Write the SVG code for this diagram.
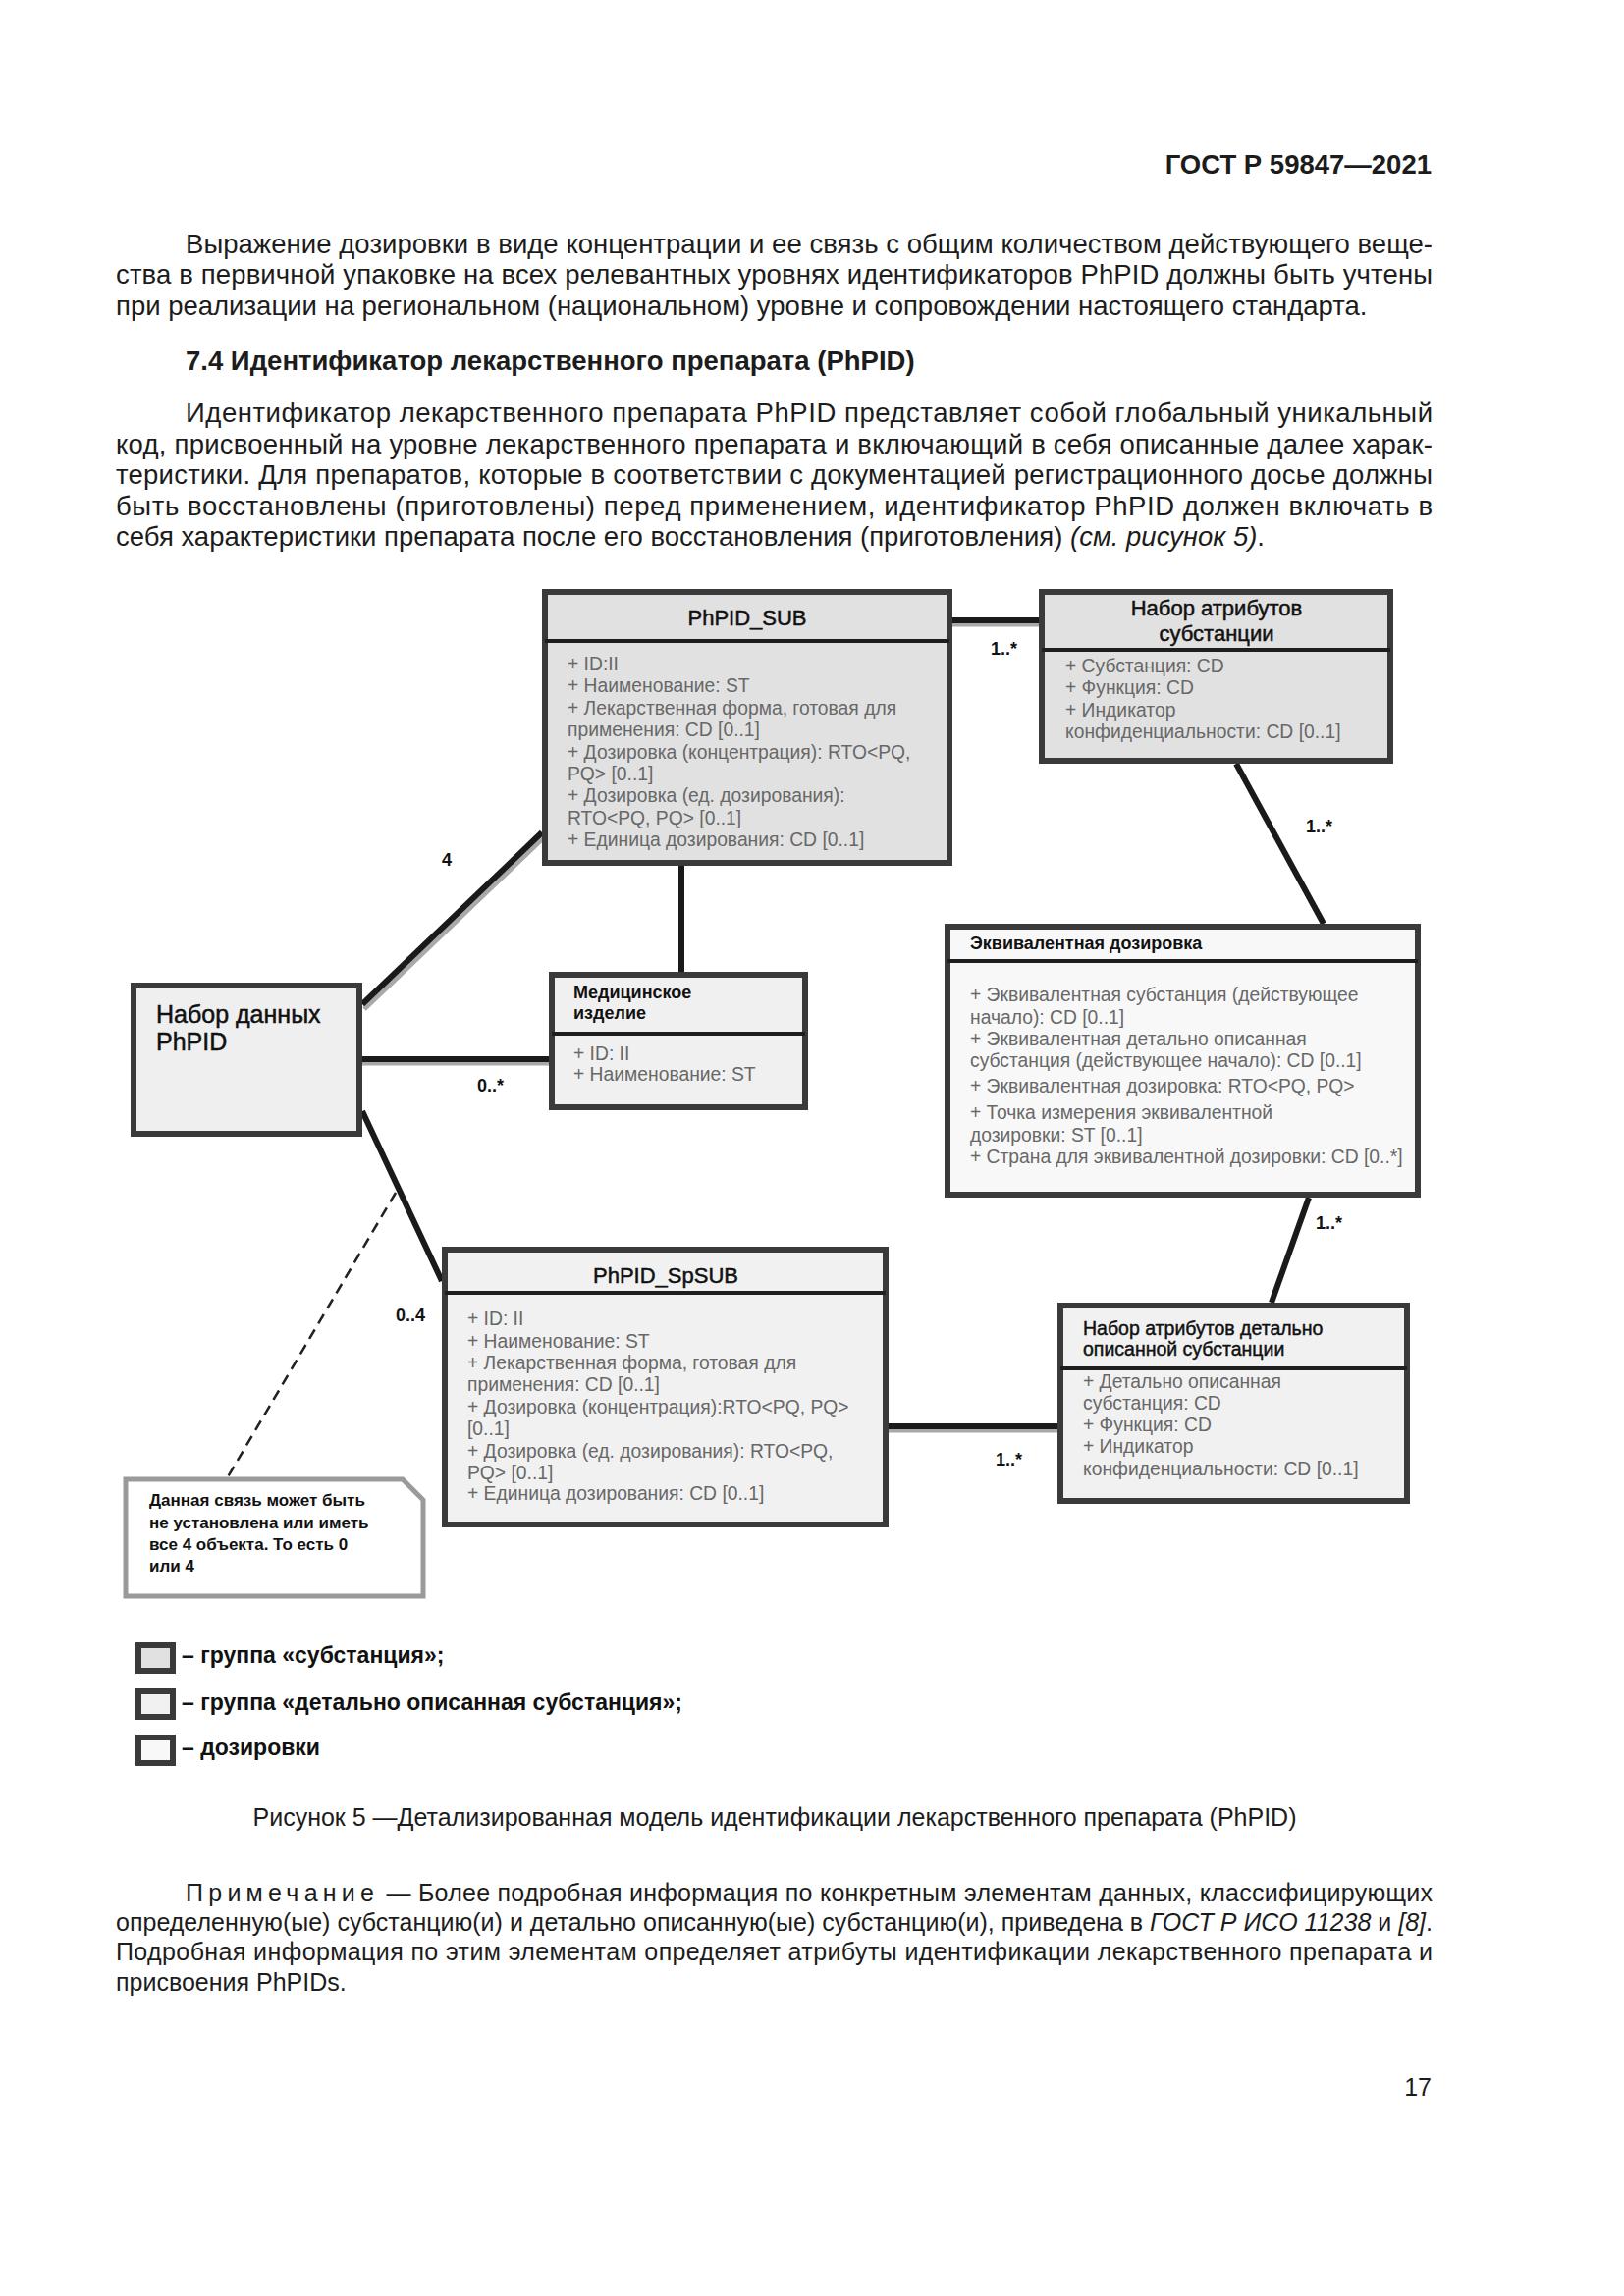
<svg xmlns="http://www.w3.org/2000/svg" width="1654" height="2339" viewBox="0 0 1654 2339">
<style>
text{font-family:"Liberation Sans",Arial,sans-serif}
.body{font-size:27.5px;fill:#1c1c1c}
.bold{font-weight:bold}
.note{font-size:25px;fill:#1c1c1c}
.it{font-style:italic}
.box{stroke:#3a3a3a;stroke-width:6}
.div{stroke:#1e1e1e;stroke-width:4}
.ttl{font-size:22px;fill:#111;stroke:#111;stroke-width:0.5}
.ttls{font-size:19.5px;fill:#111;stroke:#111;stroke-width:0.45}
.ttlb{font-size:18px;font-weight:bold;fill:#111}
.attr{font-size:19.3px;fill:#686868}
.lbl{font-size:18px;font-weight:bold;fill:#111}
.conn{stroke:#1a1a1a;stroke-width:6;fill:none}
.shd{stroke:#a9a9a9;stroke-width:5;fill:none}
.nt{font-size:17px;font-weight:bold;fill:#111}
.lg{font-size:23px;font-weight:bold;fill:#111}
</style>
<rect width="1654" height="2339" fill="#ffffff"/>

<g id="page-text">
<text class="body bold" x="1458" y="177" text-anchor="end">ГОСТ Р 59847—2021</text>
<text class="body" x="189" y="258" textLength="1270" lengthAdjust="spacing">Выражение дозировки в виде концентрации и ее связь с общим количеством действующего веще-</text>
<text class="body" x="118" y="289" textLength="1341" lengthAdjust="spacing">ства в первичной упаковке на всех релевантных уровнях идентификаторов PhPID должны быть учтены</text>
<text class="body" x="118" y="321">при реализации на региональном (национальном) уровне и сопровождении настоящего стандарта.</text>
<text class="body bold" x="189" y="377">7.4 Идентификатор лекарственного препарата (PhPID)</text>
<text class="body" x="189" y="430" textLength="1270" lengthAdjust="spacing">Идентификатор лекарственного препарата PhPID представляет собой глобальный уникальный</text>
<text class="body" x="118" y="462" textLength="1341" lengthAdjust="spacing">код, присвоенный на уровне лекарственного препарата и включающий в себя описанные далее харак-</text>
<text class="body" x="118" y="493" textLength="1341" lengthAdjust="spacing">теристики. Для препаратов, которые в соответствии с документацией регистрационного досье должны</text>
<text class="body" x="118" y="525" textLength="1341" lengthAdjust="spacing">быть восстановлены (приготовлены) перед применением, идентификатор PhPID должен включать в</text>
<text class="body" x="118" y="556">себя характеристики препарата после его восстановления (приготовления) <tspan class="it">(см. рисунок 5)</tspan>.</text>

<text class="note" x="789" y="1860" text-anchor="middle">Рисунок 5 —Детализированная модель идентификации лекарственного препарата (PhPID)</text>
<text class="note" x="189" y="1937" textLength="1270" lengthAdjust="spacing"><tspan letter-spacing="5">Примечание</tspan>  — Более подробная информация по конкретным элементам данных, классифицирующих</text>
<text class="note" x="118" y="1967" textLength="1341" lengthAdjust="spacing">определенную(ые) субстанцию(и) и детально описанную(ые) субстанцию(и), приведена в <tspan class="it">ГОСТ Р ИСО 11238</tspan> и <tspan class="it">[8]</tspan>.</text>
<text class="note" x="118" y="1997" textLength="1341" lengthAdjust="spacing">Подробная информация по этим элементам определяет атрибуты идентификации лекарственного препарата и</text>
<text class="note" x="118" y="2028">присвоения PhPIDs.</text>
<text class="note" x="1458" y="2135" text-anchor="end">17</text>
</g>

<g id="connectors">
<line class="shd" x1="970" y1="636" x2="1058" y2="636"/>
<line class="conn" x1="970" y1="632" x2="1058" y2="632"/>
<line class="conn" x1="1259" y1="778" x2="1348" y2="941"/>
<line class="conn" x1="1333" y1="1220" x2="1295" y2="1327"/>
<line class="shd" x1="905" y1="1457" x2="1077" y2="1457"/>
<line class="conn" x1="905" y1="1453" x2="1077" y2="1453"/>
<line class="shd" x1="371" y1="1028" x2="554" y2="853"/>
<line class="conn" x1="369" y1="1023" x2="552" y2="848"/>
<line class="shd" x1="369" y1="1083" x2="559" y2="1083"/>
<line class="conn" x1="369" y1="1079" x2="559" y2="1079"/>
<line class="conn" x1="694" y1="882" x2="694" y2="990"/>
<line class="conn" x1="369" y1="1132" x2="450" y2="1305"/>
<line x1="403" y1="1215" x2="230" y2="1508" stroke="#222" stroke-width="2.5" stroke-dasharray="11 7"/>
<text class="lbl" x="1009" y="667">1..*</text>
<text class="lbl" x="1330" y="848">1..*</text>
<text class="lbl" x="1340" y="1252">1..*</text>
<text class="lbl" x="1014" y="1493">1..*</text>
<text class="lbl" x="450" y="882">4</text>
<text class="lbl" x="486" y="1112">0..*</text>
<text class="lbl" x="403" y="1346">0..4</text>
</g>

<g id="node-dataset">
<rect class="box" x="136" y="1004" width="230" height="151" fill="#efefef"/>
<text x="159" y="1042" font-size="25" fill="#111" stroke="#111" stroke-width="0.5">Набор данных</text>
<text x="159" y="1070" font-size="25" fill="#111" stroke="#111" stroke-width="0.5">PhPID</text>
</g>

<g id="node-phpid-sub">
<rect class="box" x="555" y="603" width="412" height="276" fill="#e1e1e1"/>
<line class="div" x1="555" y1="653" x2="967" y2="653"/>
<text class="ttl" x="761" y="637" text-anchor="middle">PhPID_SUB</text>
<text class="attr" x="578" y="683">+ ID:II</text>
<text class="attr" x="578" y="705">+ Наименование: ST</text>
<text class="attr" x="578" y="728">+ Лекарственная форма, готовая для</text>
<text class="attr" x="578" y="750">применения: CD [0..1]</text>
<text class="attr" x="578" y="773">+ Дозировка (концентрация): RTO&lt;PQ,</text>
<text class="attr" x="578" y="795">PQ&gt; [0..1]</text>
<text class="attr" x="578" y="817">+ Дозировка (ед. дозирования):</text>
<text class="attr" x="578" y="840">RTO&lt;PQ, PQ&gt; [0..1]</text>
<text class="attr" x="578" y="862">+ Единица дозирования: CD [0..1]</text>
</g>

<g id="node-substance-attrs">
<rect class="box" x="1061" y="603" width="355" height="172" fill="#e1e1e1"/>
<line class="div" x1="1061" y1="662" x2="1416" y2="662"/>
<text class="ttl" x="1239" y="627" text-anchor="middle">Набор атрибутов</text>
<text class="ttl" x="1239" y="653" text-anchor="middle">субстанции</text>
<text class="attr" x="1085" y="685">+ Субстанция: CD</text>
<text class="attr" x="1085" y="707">+ Функция: CD</text>
<text class="attr" x="1085" y="730">+ Индикатор</text>
<text class="attr" x="1085" y="752">конфиденциальности: CD [0..1]</text>
</g>

<g id="node-medical-device">
<rect class="box" x="562" y="993" width="258" height="135" fill="#f0f0f0"/>
<line class="div" x1="562" y1="1053" x2="820" y2="1053"/>
<text class="ttlb" x="584" y="1017">Медицинское</text>
<text class="ttlb" x="584" y="1038">изделие</text>
<text class="attr" x="584" y="1080">+ ID: II</text>
<text class="attr" x="584" y="1101">+ Наименование: ST</text>
</g>

<g id="node-equivalent-strength">
<rect class="box" x="965" y="944" width="479" height="273" fill="#f8f8f8"/>
<line class="div" x1="965" y1="979" x2="1444" y2="979"/>
<text class="ttlb" x="988" y="967">Эквивалентная дозировка</text>
<text class="attr" x="988" y="1020">+ Эквивалентная субстанция (действующее</text>
<text class="attr" x="988" y="1043">начало): CD [0..1]</text>
<text class="attr" x="988" y="1065">+ Эквивалентная детально описанная</text>
<text class="attr" x="988" y="1087">субстанция (действующее начало): CD [0..1]</text>
<text class="attr" x="988" y="1113">+ Эквивалентная дозировка: RTO&lt;PQ, PQ&gt;</text>
<text class="attr" x="988" y="1140">+ Точка измерения эквивалентной</text>
<text class="attr" x="988" y="1163">дозировки: ST [0..1]</text>
<text class="attr" x="988" y="1185">+ Страна для эквивалентной дозировки: CD [0..*]</text>
</g>

<g id="node-phpid-spsub">
<rect class="box" x="453" y="1273" width="449" height="280" fill="#f1f1f1"/>
<line class="div" x1="453" y1="1317" x2="902" y2="1317"/>
<text class="ttl" x="678" y="1307" text-anchor="middle">PhPID_SpSUB</text>
<text class="attr" x="476" y="1350">+ ID: II</text>
<text class="attr" x="476" y="1373">+ Наименование: ST</text>
<text class="attr" x="476" y="1395">+ Лекарственная форма, готовая для</text>
<text class="attr" x="476" y="1417">применения: CD [0..1]</text>
<text class="attr" x="476" y="1440">+ Дозировка (концентрация):RTO&lt;PQ, PQ&gt;</text>
<text class="attr" x="476" y="1462">[0..1]</text>
<text class="attr" x="476" y="1485">+ Дозировка (ед. дозирования): RTO&lt;PQ,</text>
<text class="attr" x="476" y="1507">PQ&gt; [0..1]</text>
<text class="attr" x="476" y="1528">+ Единица дозирования: CD [0..1]</text>
</g>

<g id="node-specified-substance-attrs">
<rect class="box" x="1080" y="1330" width="353" height="199" fill="#f1f1f1"/>
<line class="div" x1="1080" y1="1394" x2="1433" y2="1394"/>
<text class="ttls" x="1103" y="1360">Набор атрибутов детально</text>
<text class="ttls" x="1103" y="1381">описанной субстанции</text>
<text class="attr" x="1103" y="1414">+ Детально описанная</text>
<text class="attr" x="1103" y="1436">субстанция: CD</text>
<text class="attr" x="1103" y="1458">+ Функция: CD</text>
<text class="attr" x="1103" y="1480">+ Индикатор</text>
<text class="attr" x="1103" y="1503">конфиденциальности: CD [0..1]</text>
</g>

<g id="node-note">
<polygon points="128,1507 410,1507 431,1528 431,1626 128,1626" fill="#ffffff" stroke="#9a9a9a" stroke-width="5"/>
<text class="nt" x="152" y="1534">Данная связь может быть</text>
<text class="nt" x="152" y="1557">не установлена или иметь</text>
<text class="nt" x="152" y="1579">все 4 объекта. То есть 0</text>
<text class="nt" x="152" y="1601">или 4</text>
</g>

<g id="legend">
<rect class="box" x="141" y="1676" width="35" height="26" fill="#e1e1e1"/>
<text class="lg" x="185" y="1694">– группа «субстанция»;</text>
<rect class="box" x="141" y="1723" width="35" height="26" fill="#f1f1f1"/>
<text class="lg" x="185" y="1742">– группа «детально описанная субстанция»;</text>
<rect class="box" x="141" y="1770" width="35" height="26" fill="#f8f8f8"/>
<text class="lg" x="185" y="1788">– дозировки</text>
</g>
</svg>
